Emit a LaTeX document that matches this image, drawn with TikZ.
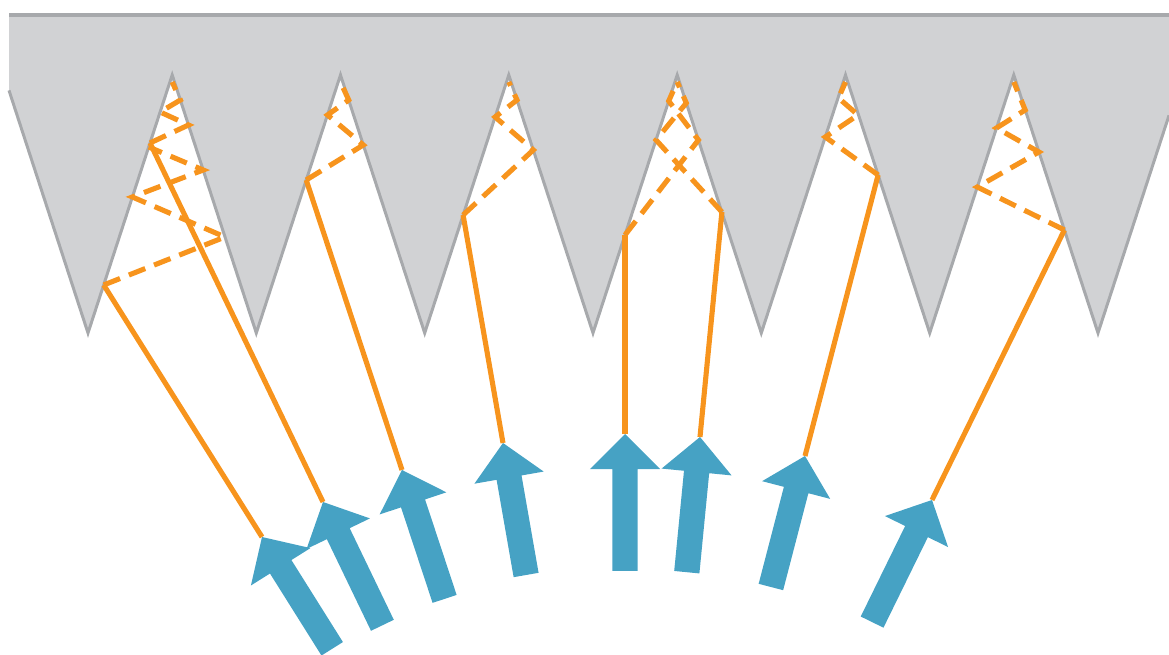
\documentclass[tikz,border=0pt]{standalone}
\usetikzlibrary{calc}
\definecolor{toothfill}{RGB}{209,210,212}
\definecolor{toothline}{RGB}{167,169,172}
\definecolor{raycol}{RGB}{247,148,29}
\definecolor{beamcol}{RGB}{70,162,196}
\begin{document}
\begin{tikzpicture}[x=0.01cm,y=-0.01cm,
  ray/.style={draw=raycol,line width=1.45pt},
  bounce/.style={ray,dash pattern=on 5pt off 2.7pt,line join=miter},
  edge/.style={draw=toothline,line width=0.85pt,line join=miter},
  beam/.style={fill=beamcol}]
\useasboundingbox (0,0) rectangle (1169,655);

% pyramid surface: valleys (tips) and apexes of the cavities
\coordinate (l0) at (9,90.4);
\coordinate (t0) at (88,333);     \coordinate (p1) at (172.2,75);
\coordinate (t1) at (256.3,333);  \coordinate (p2) at (340.5,75);
\coordinate (t2) at (424.7,333);  \coordinate (p3) at (508.8,75);
\coordinate (t3) at (593,333);    \coordinate (p4) at (677.2,75);
\coordinate (t4) at (761.3,333);  \coordinate (p5) at (845.5,75);
\coordinate (t5) at (929.7,333);  \coordinate (p6) at (1013.8,75);
\coordinate (t6) at (1098,333);
\coordinate (r0) at (1169,115.4);

\fill[toothfill] (9,15) -- (1169,15) -- (r0) -- (t6) -- (p6) -- (t5) -- (p5) -- (t4)
  -- (p4) -- (t3) -- (p3) -- (t2) -- (p2) -- (t1) -- (p1) -- (t0) -- (l0) -- cycle;
\draw[toothline,line width=0.9pt] (9,15) -- (1169,15);
\draw[edge] (l0) -- (t0) -- (p1) -- (t1) -- (p2) -- (t2) -- (p3) -- (t3) -- (p4)
  -- (t4) -- (p5) -- (t5) -- (p6) -- (t6) -- (r0);

% incoming beams: tail (a) and head (h)
\coordinate (a1) at (332.2,648.8); \coordinate (h1) at (262,537);
\coordinate (a2) at (382.4,625.3); \coordinate (h2) at (323,502);
\coordinate (a3) at (444.6,598.9); \coordinate (h3) at (402,470);
\coordinate (a4) at (526.1,575);   \coordinate (h4) at (503,443);
\coordinate (a5) at (625,571);     \coordinate (h5) at (625,434);
\coordinate (a6) at (686.8,572.2); \coordinate (h6) at (700,437);
\coordinate (a7) at (770.9,587);   \coordinate (h7) at (805,456);
\coordinate (a8) at (872.1,622.1); \coordinate (h8) at (932,500);

% first hit of each ray on a facet
\coordinate (s1) at (103.7,285);
\coordinate (s2) at (150,143);
\coordinate (s3) at (306.2,180);
\coordinate (s4) at (463.1,215);
\coordinate (s5) at (625,235);
\coordinate (s6) at (721.9,212);
\coordinate (s7) at (878.1,175);
\coordinate (s8) at (1064.4,230);

% rays up to the surface
\foreach \i in {1,...,8} { \draw[ray] (h\i) -- (s\i); }

% multiple reflections inside the cavities
\draw[bounce] (s1) -- (225,237) -- (132.4,197) -- (203.2,170) -- (148.7,147);
\draw[bounce] (s2) -- (188.5,125) -- (160.1,112) -- (180.4,100) -- (172.2,82);
\draw[bounce] (s3) -- (363.3,145) -- (327.5,115) -- (348.7,100) -- (340.5,82);
\draw[bounce] (s4) -- (533.3,150) -- (495.1,117) -- (517,100) -- (508.8,82);
\draw[bounce] (s5) -- (698.4,140) -- (668.7,101) -- (677.2,82);
\draw[bounce] (s6) -- (656,140) -- (686.3,103) -- (677.2,82);
\draw[bounce] (s7) -- (825.3,137) -- (858,115) -- (838.5,98) -- (845.5,82);
\draw[bounce] (s8) -- (977.3,187) -- (1038.9,152) -- (996.5,128) -- (1025.2,110) -- (1013.8,82);

% thick beam arrows
\foreach \i in {1,...,8} {
  \coordinate (b\i) at ($(h\i)!10pt!(a\i)$);
  \fill[beam] ($(a\i)!3.6pt!90:(h\i)$) -- ($(b\i)!3.6pt!90:(h\i)$) -- ($(b\i)!10pt!90:(h\i)$)
    -- (h\i) -- ($(b\i)!10pt!-90:(h\i)$) -- ($(b\i)!3.6pt!-90:(h\i)$)
    -- ($(a\i)!3.6pt!-90:(h\i)$) -- cycle;
}
\end{tikzpicture}
\end{document}
